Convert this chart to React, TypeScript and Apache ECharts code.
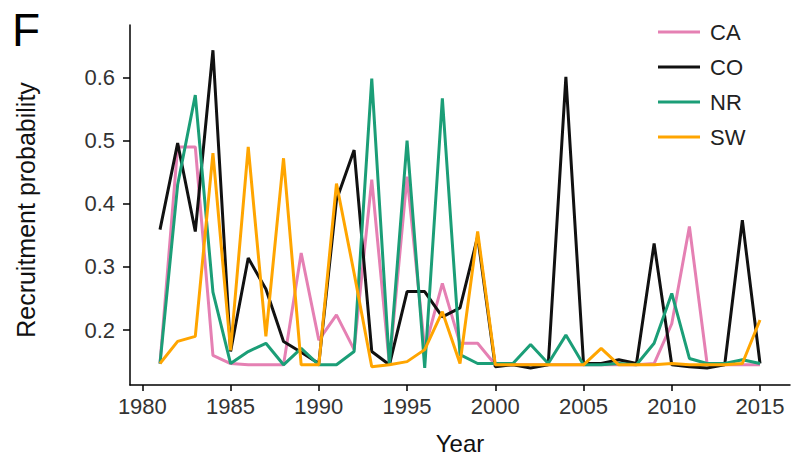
import React, { useEffect, useRef } from "react";
import * as echarts from "echarts";

const years = [
  1981, 1982, 1983, 1984, 1985, 1986, 1987, 1988, 1989, 1990,
  1991, 1992, 1993, 1994, 1995, 1996, 1997, 1998, 1999, 2000,
  2001, 2002, 2003, 2004, 2005, 2006, 2007, 2008, 2009, 2010,
  2011, 2012, 2013, 2014, 2015,
];

const CA = [
  0.147, 0.49, 0.49, 0.16, 0.147, 0.145, 0.145, 0.145, 0.322, 0.184,
  0.224, 0.169, 0.438, 0.145, 0.443, 0.17, 0.274, 0.179, 0.179, 0.145,
  0.145, 0.145, 0.145, 0.145, 0.145, 0.145, 0.145, 0.145, 0.147, 0.21,
  0.364, 0.147, 0.145, 0.145, 0.145,
];

const CO = [
  0.359, 0.496, 0.356, 0.643, 0.166, 0.314, 0.265, 0.182, 0.165, 0.147,
  0.406, 0.485, 0.166, 0.145, 0.261, 0.261, 0.221, 0.235, 0.348, 0.142,
  0.145, 0.14, 0.145, 0.601, 0.147, 0.147, 0.153, 0.147, 0.337, 0.145,
  0.142, 0.14, 0.145, 0.374, 0.147,
];

const NR = [
  0.147, 0.43, 0.572, 0.26, 0.147, 0.166, 0.179, 0.145, 0.171, 0.145,
  0.145, 0.166, 0.598, 0.145, 0.5, 0.14, 0.567, 0.161, 0.147, 0.147,
  0.147, 0.177, 0.147, 0.192, 0.145, 0.145, 0.147, 0.145, 0.179, 0.258,
  0.155, 0.147, 0.147, 0.153, 0.147,
];

const SW = [
  0.147, 0.182, 0.19, 0.48, 0.168, 0.49, 0.19, 0.472, 0.145, 0.145,
  0.432, 0.29, 0.142, 0.145, 0.15, 0.169, 0.229, 0.147, 0.356, 0.145,
  0.145, 0.145, 0.145, 0.145, 0.145, 0.171, 0.145, 0.145, 0.145, 0.147,
  0.145, 0.145, 0.145, 0.147, 0.216,
];

const seriesNames = ["CA", "CO", "NR", "SW"];
const seriesValues = [CA, CO, NR, SW];
const seriesColors = ["#E580B3", "#111111", "#1B9E77", "#FFA500"];

const xTicks = [1980, 1985, 1990, 1995, 2000, 2005, 2010, 2015];
const yTicks = [0.2, 0.3, 0.4, 0.5, 0.6];

const FONT = "'Liberation Sans', Arial, Helvetica, sans-serif";

export default function App() {
  const ref = useRef<HTMLDivElement>(null);

  useEffect(() => {
    document.body.style.margin = "0";
    if (!ref.current) return;
    const chart = echarts.init(ref.current, undefined, { renderer: "svg" });

    const option: any = {
      animation: false,
      backgroundColor: "#ffffff",
      textStyle: { fontFamily: FONT },
      grid: { left: 130, right: 4, top: 25, bottom: 73, containLabel: false },
      legend: {
        orient: "vertical",
        left: 653,
        top: 15,
        icon: "rect",
        itemWidth: 42,
        itemHeight: 3,
        itemGap: 11,
        data: seriesNames,
        textStyle: {
          fontFamily: FONT,
          fontSize: 22,
          lineHeight: 24,
          color: "#222",
          padding: [0, 0, 0, 5],
        },
      },
      xAxis: {
        type: "value",
        min: 1979.3,
        max: 2016.7,
        splitLine: { show: false },
        axisLine: { show: true, lineStyle: { color: "#000", width: 1.5 } },
        axisTick: {
          show: true,
          length: 6,
          customValues: xTicks,
          lineStyle: { color: "#000", width: 1.5 },
        },
        axisLabel: {
          customValues: xTicks,
          formatter: (v: number) => String(v),
          fontFamily: FONT,
          fontSize: 22,
          color: "#333",
          margin: 10,
        },
      },
      yAxis: {
        type: "value",
        min: 0.113,
        max: 0.683,
        splitLine: { show: false },
        axisLine: { show: true, lineStyle: { color: "#000", width: 1.5 } },
        axisTick: {
          show: true,
          length: 7,
          customValues: yTicks,
          lineStyle: { color: "#000", width: 1.5 },
        },
        axisLabel: {
          customValues: yTicks,
          formatter: (v: number) => v.toFixed(1),
          fontFamily: FONT,
          fontSize: 22,
          color: "#333",
          margin: 15,
        },
      },
      series: seriesNames.map((name, i) => ({
        name,
        type: "line",
        data: years.map((y, j) => [y, seriesValues[i][j]]),
        showSymbol: false,
        symbol: "none",
        lineStyle: { color: seriesColors[i], width: 3 },
        itemStyle: { color: seriesColors[i] },
        z: 2 + i,
      })),
      graphic: [
        {
          type: "text",
          x: 12,
          y: 30,
          style: {
            text: "F",
            font: `46px ${FONT}`,
            fill: "#000",
            align: "left",
            verticalAlign: "middle",
          },
        },
        {
          type: "text",
          x: 26,
          y: 210,
          rotation: Math.PI / 2,
          style: {
            text: "Recruitment probability",
            font: `25px ${FONT}`,
            fill: "#111",
            align: "center",
            verticalAlign: "middle",
          },
        },
        {
          type: "text",
          x: 460,
          y: 443,
          style: {
            text: "Year",
            font: `24px ${FONT}`,
            fill: "#111",
            align: "center",
            verticalAlign: "middle",
          },
        },
      ],
    };

    chart.setOption(option);
    return () => chart.dispose();
  }, []);

  return (
    <div
      ref={ref}
      style={{ position: "absolute", left: 0, top: 0, width: 794, height: 458 }}
    />
  );
}
